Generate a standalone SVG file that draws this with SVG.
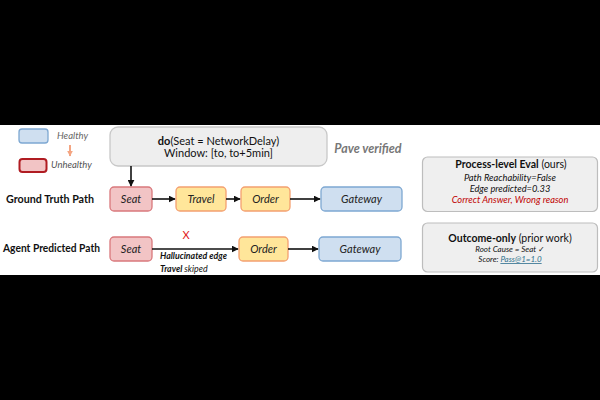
<svg xmlns="http://www.w3.org/2000/svg" width="600" height="400" viewBox="0 0 600 400">
<defs>
<marker id="arr" viewBox="0 0 10 10" refX="9" refY="5" markerWidth="7" markerHeight="7" markerUnits="userSpaceOnUse" orient="auto">
<path d="M0,0 L10,5 L0,10 z" fill="#111"/>
</marker>
<marker id="arrO" viewBox="0 0 10 10" refX="9" refY="5" markerWidth="6" markerHeight="6" markerUnits="userSpaceOnUse" orient="auto">
<path d="M0,0 L10,5 L0,10 z" fill="#f4a582"/>
</marker>
<style>
text{font-family:Lato,"Open Sans","DejaVu Sans",sans-serif;}
.unh{fill:#f2c4c5;stroke:#d9787c;stroke-width:1.3;}
.amb{fill:#ffe69a;stroke:#f4a070;stroke-width:1.3;}
.hea{fill:#cfdff0;stroke:#7ea8d2;stroke-width:1.3;}
.nl{font-style:italic;font-size:11px;fill:#222;text-anchor:middle;}
.panel{fill:#efefef;stroke:#bdbdbd;stroke-width:1.2;}
.edge{stroke:#111;stroke-width:1.6;fill:none;marker-end:url(#arr);}
.rowl{font-weight:bold;font-size:10.5px;fill:#111;}
.it{font-style:italic;font-size:9.3px;fill:#111;text-anchor:middle;}
.ttl{font-size:10.5px;fill:#111;text-anchor:middle;}
</style>
</defs>
<rect x="0" y="0" width="600" height="400" fill="#000"/>
<rect x="0" y="125" width="600" height="150" fill="#fff"/>

<g id="legend">
<rect x="19" y="129" width="29" height="14" rx="3" class="hea"/>
<text x="57" y="139" style="font-style:italic;font-size:9.5px;fill:#666">Healthy</text>
<line x1="70" y1="145" x2="70" y2="156" stroke="#f4a582" stroke-width="2" marker-end="url(#arrO)"/>
<rect x="19.5" y="159" width="27" height="13" rx="3" fill="#f2c4c5" stroke="#b01c22" stroke-width="2"/>
<text x="51" y="168" style="font-style:italic;font-size:9.5px;fill:#555">Unhealthy</text>
</g>

<g id="row-labels">
<text x="6" y="203" class="rowl" textLength="88" lengthAdjust="spacingAndGlyphs">Ground Truth Path</text>
<text x="3" y="252" class="rowl" textLength="97" lengthAdjust="spacingAndGlyphs">Agent Predicted Path</text>
</g>

<g id="intervention">
<rect x="110" y="127" width="217" height="39" rx="8" fill="#eeeeee" stroke="#c8c8c8" stroke-width="1.3"/>
<text x="218.5" y="145" style="font-size:11px;fill:#111;text-anchor:middle"><tspan font-weight="bold">do</tspan>(Seat = NetworkDelay)</text>
<text x="218.5" y="157" style="font-size:11px;fill:#111;text-anchor:middle">Window: [to, to+5min]</text>
</g>
<g id="pave-label">
<text x="368" y="153" style="font-style:italic;font-weight:bold;font-size:12.5px;fill:#777;text-anchor:middle">Pave verified</text>
</g>

<g id="gt-seat"><rect x="110" y="187" width="42" height="24" rx="4" class="unh"/><text x="131" y="203" class="nl">Seat</text></g>
<g id="gt-travel"><rect x="176" y="187" width="50" height="24" rx="4" class="amb"/><text x="201" y="203" class="nl">Travel</text></g>
<g id="gt-order"><rect x="241" y="187" width="49" height="24" rx="4" class="amb"/><text x="265.5" y="203" class="nl">Order</text></g>
<g id="gt-gateway"><rect x="321" y="187" width="81" height="24" rx="4" class="hea"/><text x="361.5" y="203" class="nl">Gateway</text></g>

<g id="ap-seat"><rect x="110" y="237" width="42" height="24" rx="4" class="unh"/><text x="131" y="253" class="nl">Seat</text></g>
<g id="ap-order"><rect x="239" y="237" width="49" height="24" rx="4" class="amb"/><text x="263.5" y="253" class="nl">Order</text></g>
<g id="ap-gateway"><rect x="319" y="237" width="82" height="24" rx="4" class="hea"/><text x="360" y="253" class="nl">Gateway</text></g>

<g id="connectors">
<line x1="131" y1="166" x2="131" y2="186" class="edge"/>
<line x1="152" y1="199" x2="175" y2="199" class="edge"/>
<line x1="226" y1="199" x2="240" y2="199" class="edge"/>
<line x1="290" y1="199" x2="320" y2="199" class="edge"/>
<line x1="152" y1="249" x2="238" y2="249" class="edge"/>
<line x1="288" y1="249" x2="318" y2="249" class="edge"/>
</g>

<g id="hallucination">
<text x="186" y="239" style="font-size:11px;fill:#e02020;text-anchor:middle">X</text>
<text x="160" y="259" style="font-style:italic;font-weight:bold;font-size:8.8px;fill:#111">Hallucinated edge</text>
<text x="160" y="272" style="font-style:italic;font-size:8.8px;fill:#111"><tspan font-weight="bold">Travel</tspan> skiped</text>
</g>

<g id="process-eval">
<rect x="422.5" y="157" width="175" height="54.5" rx="5" class="panel"/>
<text x="511" y="168" class="ttl"><tspan font-weight="bold">Process-level Eval</tspan> (ours)</text>
<text x="510" y="181" class="it">Path Reachability=False</text>
<text x="510" y="192" class="it">Edge predicted=0.33</text>
<text x="510" y="203" class="it" style="fill:#c00000">Correct Answer, Wrong reason</text>
</g>

<g id="outcome-only">
<rect x="422.5" y="223" width="175" height="49" rx="5" class="panel"/>
<text x="510" y="242" class="ttl"><tspan font-weight="bold">Outcome-only</tspan> (prior work)</text>
<text x="510" y="252" class="it" style="font-size:8px">Root Cause = Seat ✓</text>
<text x="510" y="262" class="it" style="font-size:8px">Score: <tspan fill="#2e6f8e" text-decoration="underline">Pass@1=1.0</tspan></text>
</g>
</svg>
